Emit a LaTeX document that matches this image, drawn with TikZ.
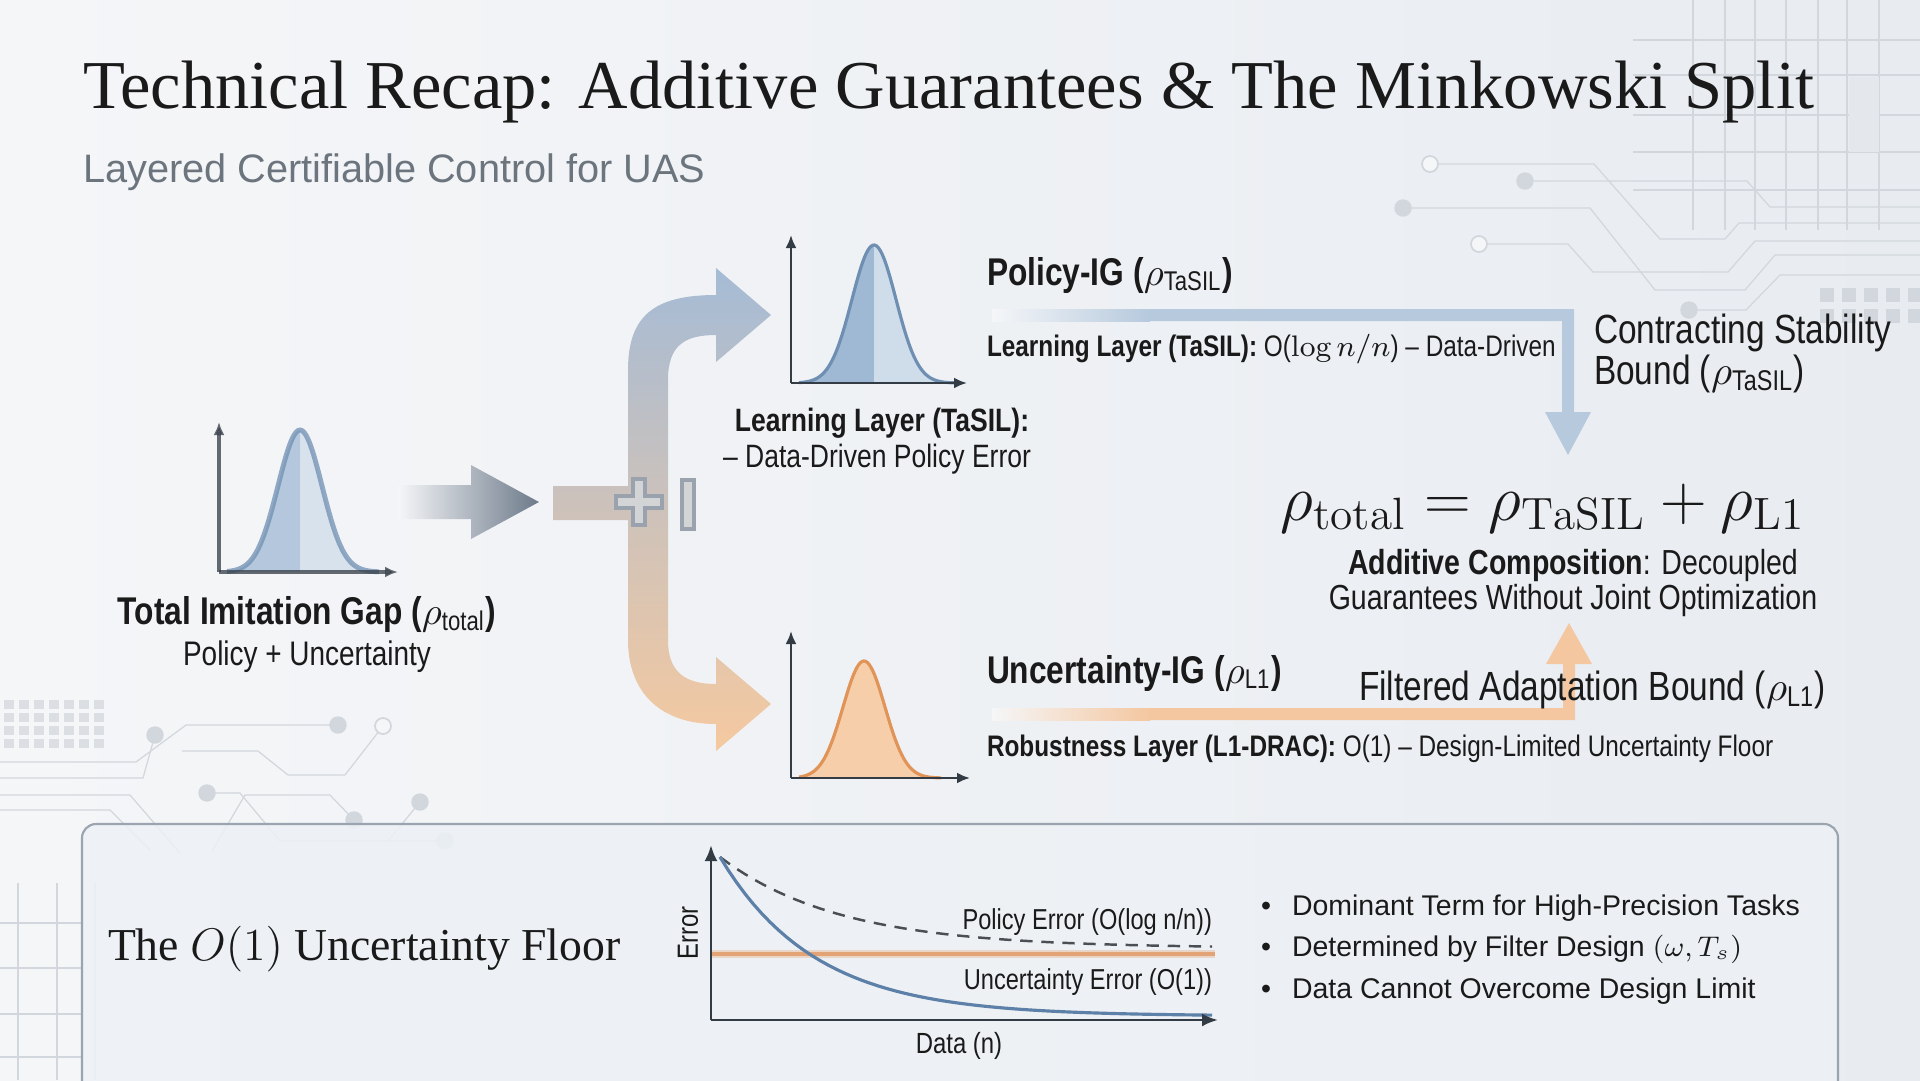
\RequirePackage{fix-cm}
\documentclass[tikz,border=0pt]{standalone}
\usepackage{amsmath}
\usepackage{fontspec}
\usepackage{xcolor}
\usetikzlibrary{arrows.meta,positioning}
\newfontfamily\headserif{Liberation Serif}
\newfontfamily\labelsans[FakeStretch=0.82]{Liberation Sans}
\newfontfamily\plainsans{Liberation Sans}
\newcommand{\rhosub}[1]{$\rho_{\text{\mdseries #1}}$}
\definecolor{ink}{HTML}{1A1A1A}
\definecolor{subgray}{HTML}{6C757E}
\definecolor{bgleft}{HTML}{F5F6F8}
\definecolor{bgright}{HTML}{E8ECF1}
\definecolor{circgray}{HTML}{D2D7DD}
\definecolor{bluedark}{HTML}{9FB8D3}
\definecolor{bluepale}{HTML}{CFDCEA}
\definecolor{blueline}{HTML}{6F8FB2}
\definecolor{orfill}{HTML}{F6CFAA}
\definecolor{orline}{HTML}{E09458}
\definecolor{forkblue}{HTML}{A5BBD5}
\definecolor{forkgray}{HTML}{C8C9CC}
\definecolor{forkorange}{HTML}{F5C9A0}
\definecolor{arrowgray}{HTML}{6D7A8A}
\definecolor{barblue}{HTML}{B6C9DD}
\definecolor{barorange}{HTML}{F4C7A0}
\definecolor{panelfill}{HTML}{EDF1F5}
\definecolor{panelline}{HTML}{9AA5B1}
\definecolor{axisgray}{HTML}{333B44}
\definecolor{floorline}{HTML}{E2A476}
\definecolor{curveblue}{HTML}{5C80A7}
\definecolor{dashgray}{HTML}{4A4F55}

\begin{document}
\begin{tikzpicture}[x=0.1mm, y=-0.1mm,
    every node/.style={inner sep=0pt, outer sep=0pt, text=ink},
    title/.style={font=\headserif\fontsize{19.5}{23}\selectfont, anchor=base west},
    subtitle/.style={font=\plainsans\fontsize{11.3}{13}\selectfont, text=subgray, anchor=base west},
    head/.style={font=\labelsans\bfseries\fontsize{11}{13}\selectfont},
    caption/.style={font=\labelsans\fontsize{9.2}{11}\selectfont, anchor=base},
    summary/.style={font=\labelsans\fontsize{9.9}{12}\selectfont, anchor=base},
    note/.style={font=\labelsans\fontsize{8.45}{10}\selectfont, anchor=base west},
    bound/.style={font=\labelsans\fontsize{11.6}{14}\selectfont, anchor=base west},
    small/.style={font=\labelsans\fontsize{8.2}{10}\selectfont},
    item/.style={font=\plainsans\fontsize{8.1}{10}\selectfont, anchor=base west},
    plotaxis/.style={draw=axisgray, line width=0.7pt, -{Latex[length=1.3mm, width=1.1mm]}},
    chartaxis/.style={draw=axisgray, line width=0.8pt, -{Latex[length=1.6mm, width=1.3mm]}},
    circuit/.style={draw=circgray, line width=0.35pt},
    pad/.style={circle, draw=circgray, fill=circgray, minimum size=1.6mm},
    openpad/.style={circle, draw=circgray, line width=0.5pt, fill=bgleft, minimum size=1.6mm}]
  \useasboundingbox (0,0) rectangle (1920,1080);
  \shade[left color=bgleft, right color=bgright] (0,0) rectangle (1920,1080);
  \draw[circuit] (1693,0) -- (1693,230) (1725,0) -- (1725,230) (1755,0) -- (1755,230) (1786,0) -- (1786,230)
    (1818,0) -- (1818,230) (1847,0) -- (1847,230) (1879,0) -- (1879,230)
    (1633,40) -- (1920,40) (1633,75) -- (1920,75) (1633,115) -- (1920,115) (1633,152) -- (1920,152) (1633,190) -- (1920,190);
  \fill[circgray!60] (1849,77) rectangle (1879,152);
  \draw[circuit] (1430,164) -- (1594,164) -- (1660,239) -- (1725,239) -- (1739,223) -- (1920,223);
  \draw[circuit] (1525,181) -- (1747,181) -- (1770,207) -- (1920,207);
  \draw[circuit] (1403,208) -- (1590,208) -- (1655,290) -- (1745,290) -- (1775,255) -- (1920,255);
  \draw[circuit] (1479,244) -- (1568,244) -- (1593,272) -- (1728,272) -- (1755,241) -- (1920,241);
  \draw[circuit] (1689,310) -- (1746,310) -- (1780,275) -- (1920,275);
  \node[openpad] (c1) at (1430,164) {};
  \node[pad] (c2) at (1525,181) {};
  \node[pad] (c3) at (1403,208) {};
  \node[openpad] (c4) at (1479,244) {};
  \node[pad] (c5) at (1689,310) {};
  \foreach \cx in {1820,1842,1864,1886,1908}{
    \fill[circgray] (\cx,288) rectangle +(14,14);
    \fill[circgray] (\cx,309) rectangle +(14,14);
  }
  \foreach \cx in {4,19,34,49,64,79,94}{
    \foreach \cy in {700,713,726,739}{
      \fill[circgray!80] (\cx,\cy) rectangle +(10,9);
    }
  }
  \draw[circuit] (0,762) -- (136,762) -- (186,725) -- (338,725);
  \draw[circuit] (0,778) -- (143,778) -- (155,735);
  \draw[circuit] (182,751) -- (258,751) -- (288,775) -- (345,775) -- (383,726);
  \draw[circuit] (0,795) -- (130,795) -- (180,853);
  \draw[circuit] (0,810) -- (110,810) -- (150,850);
  \draw[circuit] (207,793) -- (240,793) -- (280,841) -- (445,841);
  \draw[circuit] (212,851) -- (245,795) -- (330,795) -- (354,820);
  \draw[circuit] (388,841) -- (420,802);
  \node[pad] (c6) at (338,725) {};
  \node[pad] (c7) at (155,735) {};
  \node[openpad] (c8) at (383,726) {};
  \node[pad] (c9) at (207,793) {};
  \node[pad] (c10) at (445,841) {};
  \node[pad] (c11) at (354,820) {};
  \node[pad] (c12) at (420,802) {};
  \draw[circuit] (18,883) -- (18,1080) (57,883) -- (57,1080) (95,883) -- (95,1080)
    (0,923) -- (82,923) (0,968) -- (82,968) (0,1014) -- (82,1014) (0,1057) -- (82,1057);

  \node[title] (title) at (83,108) {Technical Recap: Additive Guarantees \& The Minkowski Split};
  \node[subtitle] (subtitle) at (83,182) {Layered Certifiable Control for UAS};

  \begin{scope}[shift={(219,572)}, opacity=0.75]
    \fill[bluedark] (8,0) -- plot[domain=8:81,samples=40] (\x,{-142*exp(-0.5*((\x-81)/22)^2)}) -- (81,0) -- cycle;
    \fill[bluepale] (81,0) -- plot[domain=81:160,samples=40] (\x,{-142*exp(-0.5*((\x-81)/22)^2)}) -- (160,0) -- cycle;
    \draw[blueline, line width=1.4pt] plot[domain=8:160,samples=80] (\x,{-142*exp(-0.5*((\x-81)/22)^2)});
    \draw[plotaxis, line width=1.2pt] (0,0) -- (0,-150);
    \draw[plotaxis, line width=1.2pt] (0,0) -- (179,0);
  \end{scope}
  \node[head, anchor=base] (gap) at (307,624) {Total Imitation Gap (\rhosub{total})};
  \node[caption, font=\labelsans\fontsize{9.7}{12}\selectfont] (gapsub) at (307,665) {Policy + Uncertainty};

  \shade[left color=bgleft, right color=arrowgray] (398,485) -- (471,485) -- (471,465) -- (539,502)
    -- (471,539) -- (471,519) -- (398,519) -- cycle;

  \shade[top color=forkblue, middle color=forkgray, bottom color=forkorange]
    (553,486) -- (628,486) -- (628,370) .. controls (628,315) and (655,295) .. (716,295)
    -- (716,268) -- (771,315) -- (716,362) -- (716,335) .. controls (685,335) and (668,345) .. (668,380)
    -- (668,640) .. controls (668,672) and (685,684) .. (716,684) -- (716,657) -- (771,704)
    -- (716,751) -- (716,724) .. controls (660,724) and (628,692) .. (628,640) -- (628,520)
    -- (553,520) -- cycle;
  \filldraw[fill=forkgray!80, draw=arrowgray!70, line width=0.9pt] (633,479) -- (645,479) -- (645,496) -- (662,496)
    -- (662,508) -- (645,508) -- (645,525) -- (633,525) -- (633,508) -- (616,508) -- (616,496) -- (633,496) -- cycle;
  \filldraw[fill=forkgray!80, draw=arrowgray!70, line width=0.9pt] (682,480) rectangle (694,529);

  \begin{scope}[shift={(791,383)}]
    \fill[bluedark] (8,0) -- plot[domain=8:83,samples=40] (\x,{-138*exp(-0.5*((\x-83)/22)^2)}) -- (83,0) -- cycle;
    \fill[bluepale] (83,0) -- plot[domain=83:165,samples=40] (\x,{-138*exp(-0.5*((\x-83)/22)^2)}) -- (165,0) -- cycle;
    \draw[blueline, line width=0.9pt] plot[domain=8:165,samples=80] (\x,{-138*exp(-0.5*((\x-83)/22)^2)});
    \draw[plotaxis] (0,0) -- (0,-148);
    \draw[plotaxis] (0,0) -- (176,0);
  \end{scope}
  \node[caption, font=\labelsans\bfseries\fontsize{9.2}{11}\selectfont] (tasilcap) at (882,431) {Learning Layer (TaSIL):};
  \node[caption] (tasilsub) at (877,467) {– Data-Driven Policy Error};

  \begin{scope}[shift={(791,778)}]
    \fill[orfill] (8,0) -- plot[domain=8:150,samples=60] (\x,{-117*exp(-0.5*((\x-73)/21)^2)}) -- (150,0) -- cycle;
    \draw[orline, line width=0.9pt] plot[domain=8:150,samples=80] (\x,{-117*exp(-0.5*((\x-73)/21)^2)});
    \draw[plotaxis] (0,0) -- (0,-147);
    \draw[plotaxis] (0,0) -- (179,0);
  \end{scope}

  \shade[left color=bgleft, right color=barblue] (992,309) rectangle (1150,321);
  \fill[barblue] (1150,309) -- (1574,309) -- (1574,412) -- (1591,412) -- (1568,455) -- (1545,412)
    -- (1562,412) -- (1562,321) -- (1150,321) -- cycle;
  \shade[left color=bgleft, right color=barorange] (992,708) rectangle (1150,720);
  \fill[barorange] (1150,708) -- (1563,708) -- (1563,664) -- (1546,664) -- (1569,623) -- (1592,664)
    -- (1575,664) -- (1575,720) -- (1150,720) -- cycle;

  \node[head, anchor=base west] (policyig) at (987,285) {Policy-IG (\rhosub{TaSIL})};
  \node[note] (learnrate) at (987,356) {\textbf{Learning Layer (TaSIL):} O($\log n/n$) – Data-Driven};
  \node[bound] (contract) at (1594,343) {Contracting Stability};
  \node[bound] (contract2) at (1594,384) {Bound (\rhosub{TaSIL})};

  \node[anchor=base, font=\fontsize{18.4}{22}\selectfont] (eq) at (1543,520)
    {$\rho_{\mathrm{total}} = \rho_{\mathrm{TaSIL}} + \rho_{\mathrm{L1}}$};
  \node[summary] (additive) at (1573,574) {\textbf{Additive Composition}: Decoupled};
  \node[summary] (additive2) at (1573,609) {Guarantees Without Joint Optimization};

  \node[head, anchor=base west] (uncig) at (987,683) {Uncertainty-IG (\rhosub{L1})};
  \node[bound] (filtered) at (1359,700) {Filtered Adaptation Bound (\rhosub{L1})};
  \node[note] (robust) at (987,756) {\textbf{Robustness Layer (L1-DRAC):} O(1) – Design-Limited Uncertainty Floor};

  \draw[panelline, fill=panelfill, fill opacity=0.85, line width=0.6pt, rounded corners=1.4mm] (82,824) rectangle (1838,1120);
  \node[font=\headserif\fontsize{13}{16}\selectfont, anchor=base west] (floor) at (108,960)
    {The $O(1)$ Uncertainty Floor};

  \coordinate (origin) at (711,1020);
  \draw[floorline, line width=2.4pt, opacity=0.35] (711,954) -- (1215,954);
  \draw[floorline, line width=1.1pt] (711,954) -- (1215,954);
  \draw[dashgray, line width=0.7pt, dash pattern=on 3.5pt off 2.5pt] plot[domain=720:1212,samples=60] (\x,{948-91*exp(-(\x-720)/120)});
  \draw[curveblue, line width=0.9pt] plot[domain=720:1212,samples=60] (\x,{1016-159*exp(-(\x-720)/95)});
  \draw[chartaxis] (origin) -- (711,845);
  \draw[chartaxis] (origin) -- (1218,1020);
  \node[small, anchor=base east] (polerr) at (1212,929) {Policy Error (O(log n/n))};
  \node[small, anchor=base east] (uncerr) at (1212,989) {Uncertainty Error (O(1))};
  \node[small, font=\labelsans\fontsize{8.3}{10}\selectfont, rotate=90] (errlab) at (688,933) {Error};
  \node[small, font=\labelsans\fontsize{8.3}{10}\selectfont, anchor=base] (datalab) at (959,1053) {Data (n)};

  \node[item] (b1) at (1261,915) {\textbullet};
  \node[item] (b2) at (1261,956) {\textbullet};
  \node[item] (b3) at (1261,998) {\textbullet};
  \node[item] (t1) at (1292,915) {Dominant Term for High-Precision Tasks};
  \node[item] (t2) at (1292,956) {Determined by Filter Design $(\omega, T_s)$};
  \node[item] (t3) at (1292,998) {Data Cannot Overcome Design Limit};
\end{tikzpicture}
\end{document}
